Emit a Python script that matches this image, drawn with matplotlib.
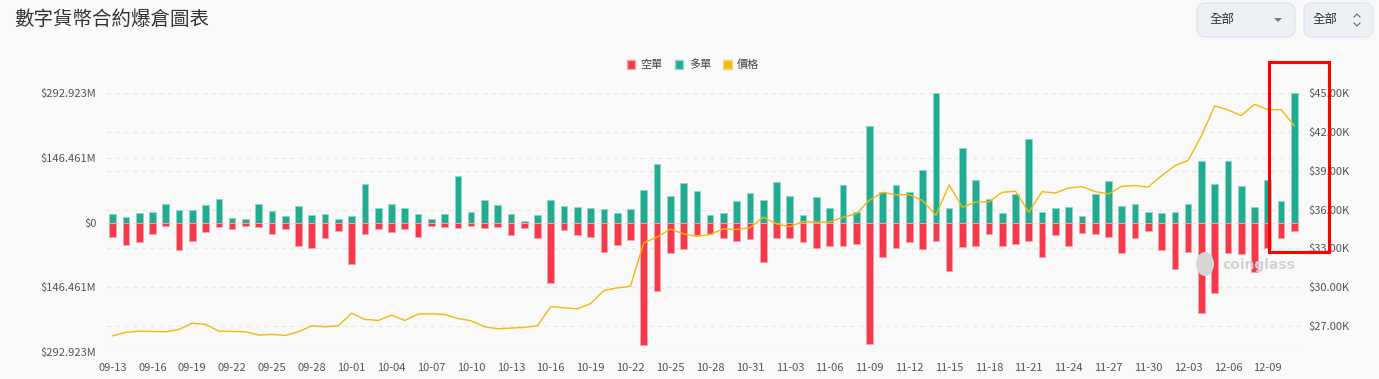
import numpy as np
import pandas as pd
import matplotlib
matplotlib.use('Agg')
import matplotlib.pyplot as plt
import matplotlib.patches as mpatches
import matplotlib.transforms as mtransforms

plt.rcParams['font.family'] = ['Noto Sans CJK TC', 'DejaVu Sans']

# ── Data ──────────────────────────────────────────────────────────────────────
dates = pd.date_range('2023-09-13', periods=90, freq='D').strftime('%m-%d').tolist()

long_liq = [19, 13, 22, 23, 42, 28, 28, 39, 53, 11, 8, 41, 26, 15, 37,
            17, 20, 9, 14, 88, 32, 42, 32, 20, 9, 19, 106, 23, 50, 39,
            19, 4, 17, 51, 37, 34, 33, 30, 21, 31, 73, 132, 60, 90, 72,
            17, 22, 49, 66, 50, 91, 59, 16, 58, 33, 85, 24, 219, 69, 85,
            69, 118, 292.923, 32, 168, 97, 53, 22, 65, 190, 24, 32, 35, 15, 65,
            93, 38, 42, 24, 22, 23, 41, 140, 87, 138, 82, 36, 97, 49, 292.5]

short_liq = [33, 51, 45, 26, 7, 62, 41, 22, 11, 15, 7, 10, 25, 14, 53,
             57, 35, 19, 94, 25, 14, 21, 14, 32, 7, 11, 13, 8, 13, 11,
             28, 12, 35, 137, 17, 29, 33, 67, 51, 39, 276, 155, 70, 60, 28,
             25, 35, 42, 38, 89, 35, 35, 43, 58, 54, 54, 49, 274, 79, 58,
             45, 60, 41, 109, 55, 54, 26, 54, 48, 41, 79, 29, 54, 23, 27,
             32, 70, 35, 19, 62, 106, 66, 205, 159, 70, 72, 113, 58, 35, 19]

price = [26256, 26515, 26616, 26590, 26565, 26745, 27231, 27128, 26616, 26590,
         26565, 26308, 26360, 26283, 26565, 27026, 26950, 27026, 28000, 27513,
         27436, 27847, 27436, 27924, 27950, 27898, 27590, 27410, 26950, 26796,
         26847, 26898, 27026, 28513, 28410, 28334, 28743, 29743, 29948, 30076,
         33437, 33871, 34486, 34128, 33923, 34077, 34512, 34460, 34589, 35410,
         34897, 34666, 35077, 35026, 35051, 35410, 35667, 36718, 37333, 37128,
         37154, 36692, 35564, 37897, 36180, 36590, 36590, 37333, 37410, 35794,
         37385, 37282, 37667, 37769, 37385, 37205, 37795, 37846, 37744, 38616,
         39385, 39795, 41692, 44000, 43692, 43256, 44128, 43718, 43718, 42462]

liq_ticks = [-292.923, -146.461, 0, 146.461, 292.923]
liq_labels = ['$292.923M', '$146.461M', '$0', '$146.461M', '$292.923M']
price_ticks = [27000, 30000, 33000, 36000, 39000, 42000, 45000]

# ── Palette ───────────────────────────────────────────────────────────────────
BG = '#f9f9f9'
RED = '#f5394b'
GREEN = '#21ab93'
GOLD = '#f0b90b'
GRID = '#e9e9e9'
LABEL = '#555555'

W, H = 1379, 379
fig = plt.figure(figsize=(W / 100, H / 100), dpi=100, facecolor=BG)

ax = fig.add_axes([106 / W, 27 / H, 1195 / W, 259 / H])
ax.set_facecolor('none')
ax2 = ax.twinx()

x = np.arange(len(dates))
ax.bar(x, long_liq, width=0.5, color=GREEN, edgecolor='#8fd6c8', linewidth=0.7, zorder=3)
ax.bar(x, [-v for v in short_liq], width=0.5, color=RED, edgecolor='#f8a3ab',
       linewidth=0.7, zorder=3)

ax.set_xlim(-0.5, len(dates) - 0.5)
ax.set_ylim(-292.923, 292.923)
ax.set_yticks(liq_ticks)
ax.set_yticklabels(liq_labels)
ax.set_xticks(x[::3])
ax.set_xticklabels(dates[::3])

ax2.plot(x, price, color=GOLD, lw=1.0, zorder=4, solid_joinstyle='round')
ax2.set_ylim(25000, 45000)
ax2.set_yticks(price_ticks)
ax2.set_yticklabels([f'${t / 1000:.2f}K' for t in price_ticks])

# dashed grid for both axes, drawn behind the bars
for t in liq_ticks:
    ax.axhline(t, color=GRID, lw=0.9, ls=(0, (4, 3)), zorder=0)
blend = mtransforms.blended_transform_factory(ax.transAxes, ax2.transData)
for t in price_ticks:
    ax.plot([0, 1], [t, t], transform=blend, color=GRID, lw=0.9,
            ls=(0, (4, 3)), zorder=0)

for a in (ax, ax2):
    for sp in a.spines.values():
        sp.set_visible(False)
ax.tick_params(axis='y', length=0, pad=7, labelsize=8, labelcolor=LABEL)
ax.tick_params(axis='x', length=0, pad=8, labelsize=8, labelcolor=LABEL)
ax2.tick_params(axis='y', length=0, pad=5, labelsize=8, labelcolor=LABEL)

# ── Title, legend, controls ───────────────────────────────────────────────────
fig.text(14 / W, 1 - 19 / H, '數字貨幣合約爆倉圖表', fontsize=14, color='#333333',
         va='center', ha='left')

hdl = [mpatches.Patch(facecolor=RED, edgecolor='#f8a3ab', label='空單'),
       mpatches.Patch(facecolor=GREEN, edgecolor='#8fd6c8', label='多單'),
       mpatches.Patch(facecolor=GOLD, edgecolor='#f6d66e', label='價格')]
fig.legend(handles=hdl, loc='center', bbox_to_anchor=(693 / W, 1 - 65 / H), ncol=3,
           frameon=False, fontsize=8, handlelength=0.75, handleheight=0.75,
           handletextpad=0.5, columnspacing=1.1, labelcolor='#444444')

def px(xp, yp):
    return xp / W, 1 - yp / H

for x0, x1 in [(1197, 1295), (1304, 1373)]:
    box = mpatches.FancyBboxPatch(px(x0, 37), (x1 - x0) / W, 34 / H,
                                  boxstyle='round,pad=0,rounding_size=0.006',
                                  transform=fig.transFigure, facecolor='#edf1f5',
                                  edgecolor='#dbe3ea', lw=0.8, mutation_aspect=W / H)
    fig.patches.append(box)
fig.text(*px(1210, 20), '全部', fontsize=9, color='#333333', va='center', ha='left')
fig.text(*px(1313, 20), '全部', fontsize=9, color='#333333', va='center', ha='left')
tri = mpatches.Polygon([px(1274, 18), px(1282, 18), px(1278, 22)], closed=True,
                       transform=fig.transFigure, facecolor='#777777', edgecolor='none')
fig.patches.append(tri)
for pts in ([(1354, 17), (1357, 14), (1360, 17)], [(1354, 23), (1357, 26), (1360, 23)]):
    fig.lines.append(plt.Line2D([px(*p)[0] for p in pts], [px(*p)[1] for p in pts],
                                transform=fig.transFigure, color='#666666', lw=0.8))

# watermark
fig.patches.append(mpatches.Ellipse(px(1205, 264), 18 / W, 24 / H, transform=fig.transFigure,
                                    facecolor='#d6d6d6', edgecolor='none'))
fig.text(*px(1222, 265), 'coinglass', fontsize=10, fontweight='bold', color='#d2d2d2',
         va='center', ha='left', family='DejaVu Sans')

# red highlight box
fig.patches.append(mpatches.Rectangle(px(1269, 252), 60 / W, 190 / H, transform=fig.transFigure,
                                      facecolor='none', edgecolor='#ff0000', lw=2.2, zorder=10))

fig.savefig('out.png', dpi=100, facecolor=BG)
